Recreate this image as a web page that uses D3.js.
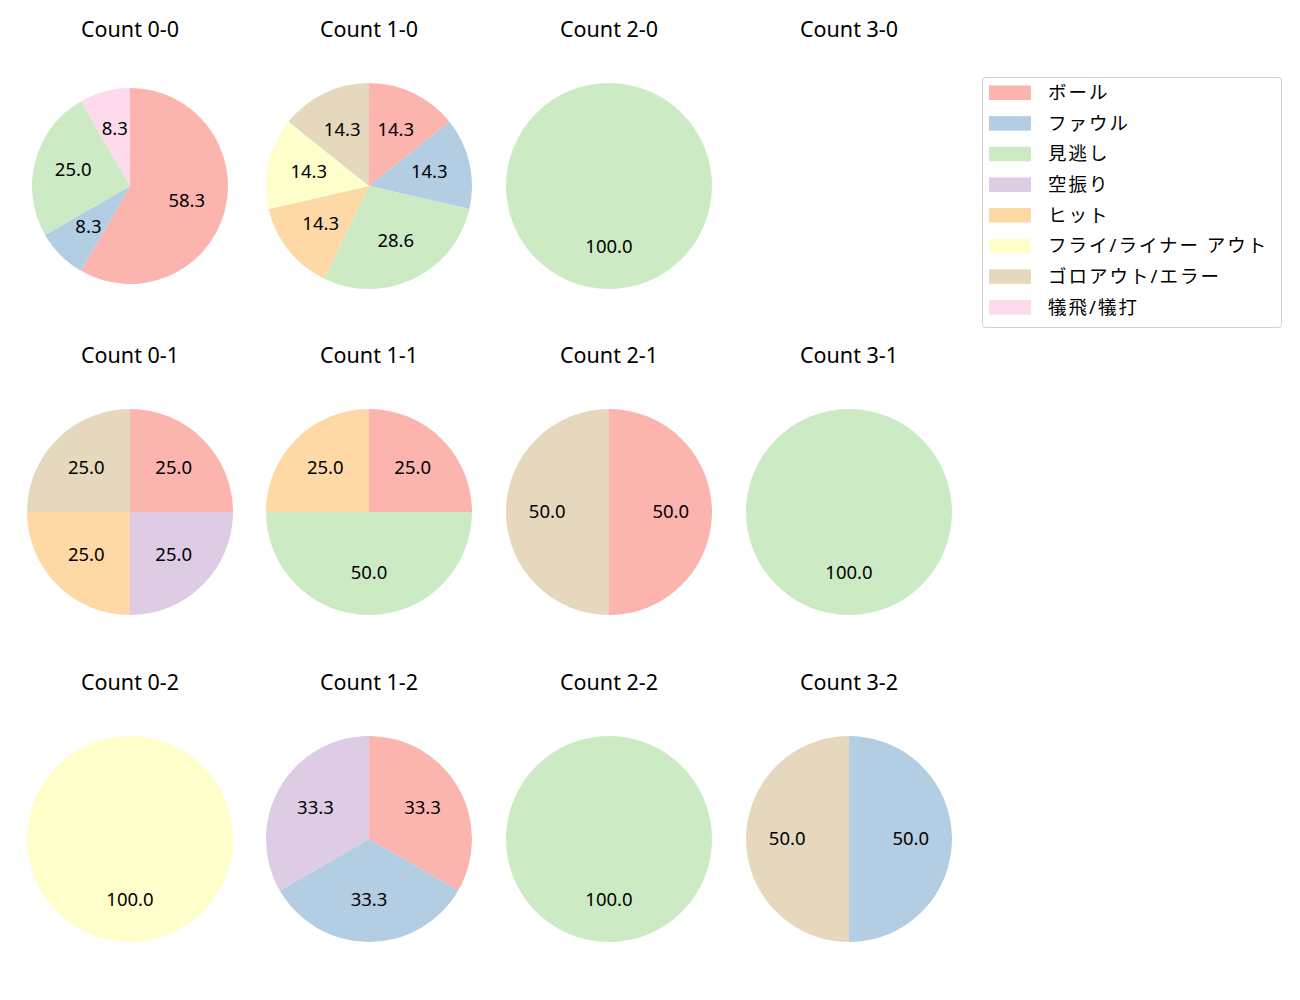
<!DOCTYPE html>
<html>
<head>
<meta charset="utf-8">
<script src="https://cdn.jsdelivr.net/npm/d3@7"></script>
<style>
  body { margin: 0; background: #fff; }
  text { font-family: "Noto Sans", "Noto Sans CJK JP", sans-serif; }
</style>
</head>
<body>
<svg id="chart" width="1300" height="1000"></svg>
<script>
// outcome categories (legend order) and Pastel1 colours
var categories = ["ボール", "ファウル", "見逃し", "空振り", "ヒット", "フライ/ライナー アウト", "ゴロアウト/エラー", "犠飛/犠打"];
var colors = ["#fbb4ae", "#b3cde3", "#ccebc5", "#decbe4", "#fed9a6", "#ffffcc", "#e5d8bd", "#fddaec"];

// counts per pitch count, same order as categories
var titles = ["Count 0-0", "Count 1-0", "Count 2-0", "Count 3-0",
              "Count 0-1", "Count 1-1", "Count 2-1", "Count 3-1",
              "Count 0-2", "Count 1-2", "Count 2-2", "Count 3-2"];
var counts = [
  [7, 1, 3, 0, 0, 0, 0, 1],
  [1, 1, 2, 0, 1, 1, 1, 0],
  [0, 0, 1, 0, 0, 0, 0, 0],
  [0, 0, 0, 0, 0, 0, 0, 0],
  [1, 0, 0, 1, 1, 0, 1, 0],
  [1, 0, 2, 0, 1, 0, 0, 0],
  [1, 0, 0, 0, 0, 0, 1, 0],
  [0, 0, 1, 0, 0, 0, 0, 0],
  [0, 0, 0, 0, 0, 1, 0, 0],
  [1, 1, 0, 1, 0, 0, 0, 0],
  [0, 0, 1, 0, 0, 0, 0, 0],
  [0, 1, 0, 0, 0, 0, 1, 0]
];

var FS = 18.5;
var svg = d3.select("#chart");

var colX = d3.scaleOrdinal().domain([0, 1, 2, 3]).range([130, 369, 609, 849]);
var rowY = d3.scaleOrdinal().domain([0, 1, 2]).range([186, 512, 839]);

var pie = d3.pie().sort(null).value(function(d) { return d.v; });

titles.forEach(function(t, i) {
  var cx = colX(i % 4), cy = rowY(Math.floor(i / 4));
  var g = svg.append("g").attr("transform", "translate(" + cx + "," + cy + ")");

  g.append("text")
    .attr("x", 0).attr("y", 29 - 186)
    .attr("dy", "0.36em")
    .attr("text-anchor", "middle")
    .attr("font-size", 21.5)
    .attr("fill", "#000")
    .text(t);

  var total = d3.sum(counts[i]);
  if (total === 0) return;

  var r = i === 0 ? 98 : 103;
  var data = counts[i].map(function(v, k) { return {v: v, k: k}; }).filter(function(d) { return d.v > 0; });
  var arcs = pie(data);
  var arc = d3.arc().innerRadius(0).outerRadius(r);
  var lab = d3.arc().innerRadius(r * 0.6).outerRadius(r * 0.6);

  g.selectAll("path").data(arcs).enter().append("path")
    .attr("d", arc)
    .attr("fill", function(d) { return colors[d.data.k]; });

  g.selectAll("text.lbl").data(arcs).enter().append("text")
    .attr("class", "lbl")
    .attr("transform", function(d) { return "translate(" + lab.centroid(d) + ")"; })
    .attr("dy", "0.3em")
    .attr("text-anchor", "middle")
    .attr("font-size", FS)
    .attr("fill", "#000")
    .text(function(d) { return (d.data.v / total * 100).toFixed(1); });
});

// legend
var lg = svg.append("g").attr("transform", "translate(982,77)");
lg.append("rect")
  .attr("x", 0.5).attr("y", 0.5)
  .attr("width", 299).attr("height", 250)
  .attr("rx", 3)
  .attr("fill", "#fff")
  .attr("stroke", "#d0d0d0");

var ly = d3.scaleLinear().domain([0, 7]).range([15.5, 230]);
categories.forEach(function(c, k) {
  lg.append("rect")
    .attr("x", 7).attr("y", ly(k) - 7)
    .attr("width", 42).attr("height", 14.5)
    .attr("fill", colors[k]);
  lg.append("text")
    .attr("x", 66).attr("y", ly(k))
    .attr("dy", "0.36em")
    .attr("font-size", FS)
    .attr("letter-spacing", 2)
    .attr("fill", "#000")
    .text(c);
});
</script>
</body>
</html>
